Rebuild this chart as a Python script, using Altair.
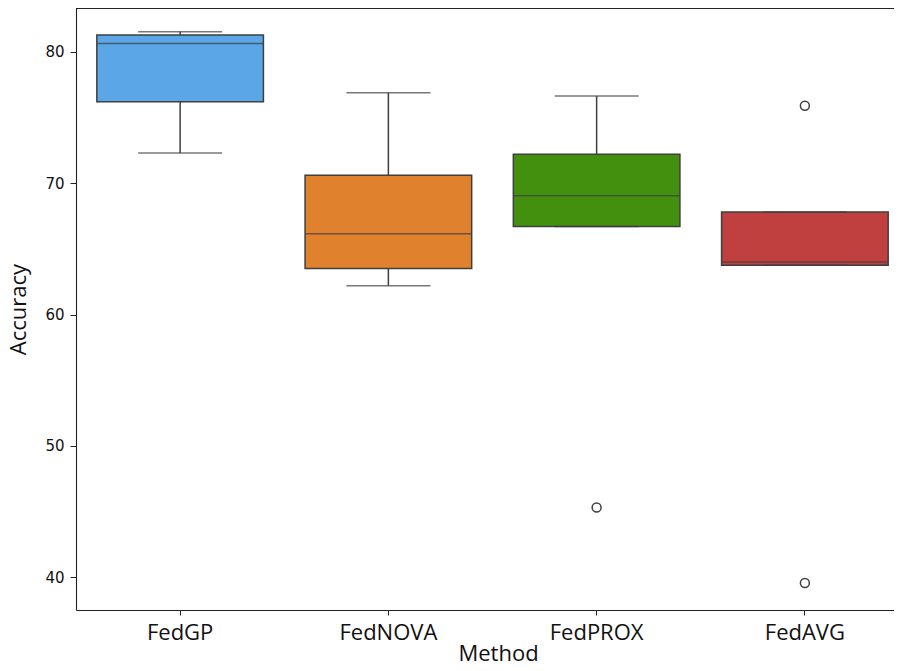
import altair as alt
import numpy as np
import pandas as pd

# ---- data ----
methods = ["FedGP", "FedNOVA", "FedPROX", "FedAVG"]
acc_fedgp = [72.3, 76.2, 80.65, 81.3, 81.55]
acc_fednova = [62.2, 63.5, 66.15, 70.6, 76.9]
acc_fedprox = [45.3, 66.7, 69.05, 72.2, 76.65]
acc_fedavg = [39.55, 63.75, 64.0, 67.8, 75.9]
box_colors = ["#5aa6e7", "#e0812d", "#43900f", "#c03f3f"]

raw = {"FedGP": acc_fedgp, "FedNOVA": acc_fednova,
       "FedPROX": acc_fedprox, "FedAVG": acc_fedavg}

# ---- box statistics (seaborn / matplotlib convention, whis=1.5) ----
stats_rows, out_rows = [], []
for m in methods:
    v = np.array(raw[m], dtype=float)
    q1, med, q3 = np.percentile(v, [25, 50, 75])
    iqr = q3 - q1
    lo_f, hi_f = q1 - 1.5 * iqr, q3 + 1.5 * iqr
    inside = v[(v >= lo_f) & (v <= hi_f)]
    stats_rows.append(dict(Method=m, q1=q1, median=med, q3=q3,
                           wlo=inside.min(), whi=inside.max()))
    for o in v[(v < lo_f) | (v > hi_f)]:
        out_rows.append(dict(Method=m, Accuracy=o))
stats = pd.DataFrame(stats_rows)
outl = pd.DataFrame(out_rows)

EDGE = "#3f3f3f"
x_scale = alt.Scale(domain=methods, range=[0, 833], paddingInner=0.2, paddingOuter=0.1)
y_scale = alt.Scale(domain=[37.49, 83.35], nice=False, zero=False)

x_enc = alt.X("Method:N", scale=x_scale, sort=methods,
              axis=alt.Axis(title="Method", labelAngle=0, labelFont="Open Sans",
                            labelFontSize=22, labelColor="#111", labelBaseline="alphabetic",
                            labelPadding=24, tickSize=5, tickColor="#222",
                            domainColor="#222", domainWidth=1.1,
                            titleFont="Open Sans", titleFontSize=22, titleFontWeight="normal",
                            titleColor="#111", titleX=422, titleY=50,
                            titleBaseline="alphabetic", titleAnchor="start", titleAlign="center"))
y_axis = alt.Axis(title="Accuracy", values=[40, 50, 60, 70, 80], grid=False,
                  labelFont="DejaVu Sans", labelFontSize=15, labelColor="#111",
                  labelPadding=6, tickSize=6, tickColor="#222",
                  domainColor="#222", domainWidth=1.1,
                  titleFont="Open Sans", titleFontSize=22, titleFontWeight="normal",
                  titleColor="#111", titleX=-46, titleY=301, titleAngle=-90,
                  titleBaseline="bottom", titleAlign="center")

base = alt.Chart(stats)

whisker = base.mark_rule(color=EDGE, strokeWidth=1.5).encode(
    x=x_enc,
    y=alt.Y("wlo:Q", scale=y_scale, axis=y_axis),
    y2="whi:Q",
)
box = base.mark_bar(stroke=EDGE, strokeWidth=1.5, opacity=1).encode(
    x=x_enc,
    y=alt.Y("q1:Q", scale=y_scale),
    y2="q3:Q",
    fill=alt.Fill("Method:N", scale=alt.Scale(domain=methods, range=box_colors), legend=None),
)
median = base.mark_tick(color=EDGE, thickness=1.5, size=166, orient="horizontal").encode(
    x=x_enc, y=alt.Y("median:Q", scale=y_scale))
cap_lo = base.mark_tick(color=EDGE, thickness=1.5, size=84, orient="horizontal").encode(
    x=x_enc, y=alt.Y("wlo:Q", scale=y_scale))
cap_hi = base.mark_tick(color=EDGE, thickness=1.5, size=84, orient="horizontal").encode(
    x=x_enc, y=alt.Y("whi:Q", scale=y_scale))
fliers = alt.Chart(outl).mark_point(filled=False, color=EDGE, strokeWidth=1.5,
                                    size=80, opacity=1).encode(
    x=x_enc, y=alt.Y("Accuracy:Q", scale=y_scale))
top_spine = alt.Chart(stats).mark_rule(color="#222", strokeWidth=1.1).encode(
    x=alt.value(0), x2=alt.value(840), y=alt.value(0.5))

chart = alt.layer(whisker, box, median, cap_lo, cap_hi, fliers, top_spine).properties(
    width=818, height=602,
    autosize=alt.AutoSizeParams(type="none"),
    padding={"left": 68, "top": 0, "right": 0, "bottom": 53},
).configure_view(stroke=None).configure(background="white")

chart.save("out.html", embed_options={"renderer": "svg", "actions": False})
